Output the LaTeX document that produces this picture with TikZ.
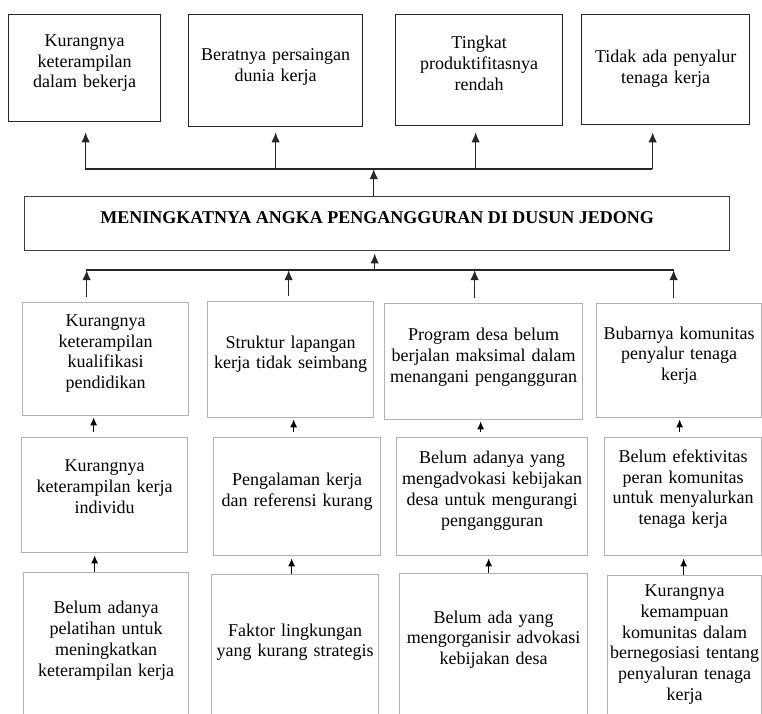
\documentclass[tikz,border=0pt]{standalone}
\usepackage{fontspec}
\setmainfont{Liberation Serif}
\usetikzlibrary{arrows.meta}
\newcommand{\boxfont}{\fontsize{18}{20.7}\selectfont}

\begin{document}
\begin{tikzpicture}[x=1pt, y=-1pt,
  topbox/.style={draw=black!85, line width=1.3pt, anchor=north west, inner sep=0pt, align=center, font=\boxfont},
  midbox/.style={draw=black!30, line width=1.3pt, anchor=north west, inner sep=0pt, align=center, font=\boxfont},
  lift/.style={execute at end node={\endgraf\kern#1}},
  link/.style={draw=black!85, line width=1.5pt},
  arr/.style={link, -{Latex[length=10pt, width=8.5pt]}},
  smallarr/.style={draw=black, line width=1.3pt, -{Latex[length=8pt, width=7pt]}}]
\fill[white] (0,0) rectangle (762,713);
\useasboundingbox (0,0) rectangle (762,713);
\clip (0,0) rectangle (762,713);

% Akibat (top row)
\node[topbox, lift=10pt, minimum width=152, minimum height=107, text width=144] (t1) at (8,14) {Kurangnya\\keterampilan\\dalam bekerja};
\node[topbox, lift=8pt, minimum width=174, minimum height=112, text width=166] (t2) at (188,14) {Beratnya persaingan\\dunia kerja};
\node[topbox, lift=14pt, minimum width=167, minimum height=111, text width=159] (t3) at (395,14) {Tingkat\\produktifitasnya\\rendah};
\node[topbox, lift=2pt, minimum width=168, minimum height=110, text width=160] (t4) at (581,14) {Tidak ada penyalur\\tenaga kerja};

% Masalah inti
\node[draw=black!75, line width=1.4pt, anchor=north west, minimum width=705, minimum height=54,
  font=\boxfont\bfseries, text height=12pt, text depth=12pt] (m) at (24,196)
  {MENINGKATNYA ANGKA PENGANGGURAN DI DUSUN JEDONG};

% Penyebab (first row)
\node[midbox, lift=11pt, minimum width=166, minimum height=113, text width=158] (a1) at (22,302) {Kurangnya\\keterampilan\\kualifikasi\\pendidikan};
\node[midbox, lift=11pt, minimum width=166, minimum height=116, text width=158] (b1) at (207,301) {Struktur lapangan\\kerja tidak seimbang};
\node[midbox, lift=9pt, minimum width=198, minimum height=116, text width=190] (c1) at (384,303) {Program desa belum\\berjalan maksimal dalam\\menangani pengangguran};
\node[midbox, lift=10pt, minimum width=165, minimum height=114, text width=157] (d1) at (596,303) {Bubarnya komunitas\\penyalur tenaga\\kerja};

% Penyebab (second row)
\node[midbox, lift=17pt, minimum width=166, minimum height=115, text width=158] (a2) at (21,437) {Kurangnya\\keterampilan kerja\\individu};
\node[midbox, lift=10pt, minimum width=167, minimum height=118, text width=159] (b2) at (213,437) {Pengalaman kerja\\dan referensi kurang};
\node[midbox, lift=12pt, minimum width=191, minimum height=118, text width=183] (c2) at (396,437) {Belum adanya yang\\mengadvokasi kebijakan\\desa untuk mengurangi\\pengangguran};
\node[midbox, lift=15pt, minimum width=157, minimum height=118, text width=151] (d2) at (604,437) {Belum efektivitas\\peran komunitas\\untuk menyalurkan\\tenaga kerja};

% Penyebab (third row)
\node[midbox, lift=10pt, minimum width=165, minimum height=146, text width=157] (a3) at (23,572) {Belum adanya\\pelatihan untuk\\meningkatkan\\keterampilan kerja};
\node[midbox, lift=10pt, minimum width=167, minimum height=145, text width=159] (b3) at (211,574) {Faktor lingkungan\\yang kurang strategis};
\node[midbox, lift=10pt, minimum width=188, minimum height=142, text width=180] (c3) at (399,573) {Belum ada yang\\mengorganisir advokasi\\kebijakan desa};
\node[midbox, lift=10pt, minimum width=154, minimum height=148, text width=150] (d3) at (607,575) {Kurangnya\\kemampuan\\komunitas dalam\\bernegosiasi tentang\\penyaluran tenaga\\kerja};

% Garis ke akibat
\coordinate (tl) at (85,169);
\coordinate (tr) at (652,169);
\draw[link] (tl) -- (tr);
\draw[arr, shorten >=10pt] ([xshift=1pt]t1.south |- tl) -- ([xshift=1pt]t1.south);
\draw[arr, shorten >=5pt] (t2.south |- tl) -- (t2.south);
\draw[arr, shorten >=6pt] ([xshift=-3.5pt]t3.south |- tl) -- ([xshift=-3.5pt]t3.south);
\draw[arr, shorten >=7pt] ([xshift=-13pt]t4.south |- tl) -- ([xshift=-13pt]t4.south);
\draw[arr] ([xshift=-3.5pt]m.north) -- ([xshift=-3.5pt]m.north |- tl);

% Garis dari penyebab
\coordinate (bl) at (86,270);
\coordinate (br) at (674,270);
\draw[link] (bl) -- (br);
\draw[arr, shorten >=2pt] ([xshift=-2.5pt]m.south |- bl) -- ([xshift=-2.5pt]m.south);
\draw[arr, shorten <=5pt] ([xshift=-19pt]a1.north) -- ([xshift=-19pt]a1.north |- bl);
\draw[arr, shorten <=5pt] ([xshift=-2pt]b1.north) -- ([xshift=-2pt]b1.north |- bl);
\draw[arr, shorten <=5pt] ([xshift=-9pt]c1.north) -- ([xshift=-9pt]c1.north |- bl);
\draw[arr, shorten <=5pt] ([xshift=-5.5pt]d1.north) -- ([xshift=-5.5pt]d1.north |- bl);

% Antar baris
\draw[smallarr, shorten <=5pt, shorten >=1pt] ([xshift=-11pt]a2.north) -- ([xshift=-11pt]a2.north |- a1.south);
\draw[smallarr, shorten <=5pt, shorten >=1pt] ([xshift=-3.5pt]b2.north) -- ([xshift=-3.5pt]b2.north |- b1.south);
\draw[smallarr, shorten <=5pt, shorten >=1pt] ([xshift=-11.5pt]c2.north) -- ([xshift=-11.5pt]c2.north |- c1.south);
\draw[smallarr, shorten <=5pt, shorten >=1pt] ([xshift=-3.5pt]d2.north) -- ([xshift=-3.5pt]d2.north |- d1.south);
\draw[smallarr, shorten >=2pt] ([xshift=-11.5pt]a3.north) -- ([xshift=-11.5pt]a3.north |- a2.south);
\draw[smallarr, shorten >=2pt] ([xshift=-3.5pt]b3.north) -- ([xshift=-3.5pt]b3.north |- b2.south);
\draw[smallarr, shorten >=2pt] ([xshift=-5pt]c3.north) -- ([xshift=-5pt]c3.north |- c2.south);
\draw[smallarr, shorten >=2pt] ([xshift=-1pt]d3.north) -- ([xshift=-1pt]d3.north |- d2.south);
\end{tikzpicture}
\end{document}
